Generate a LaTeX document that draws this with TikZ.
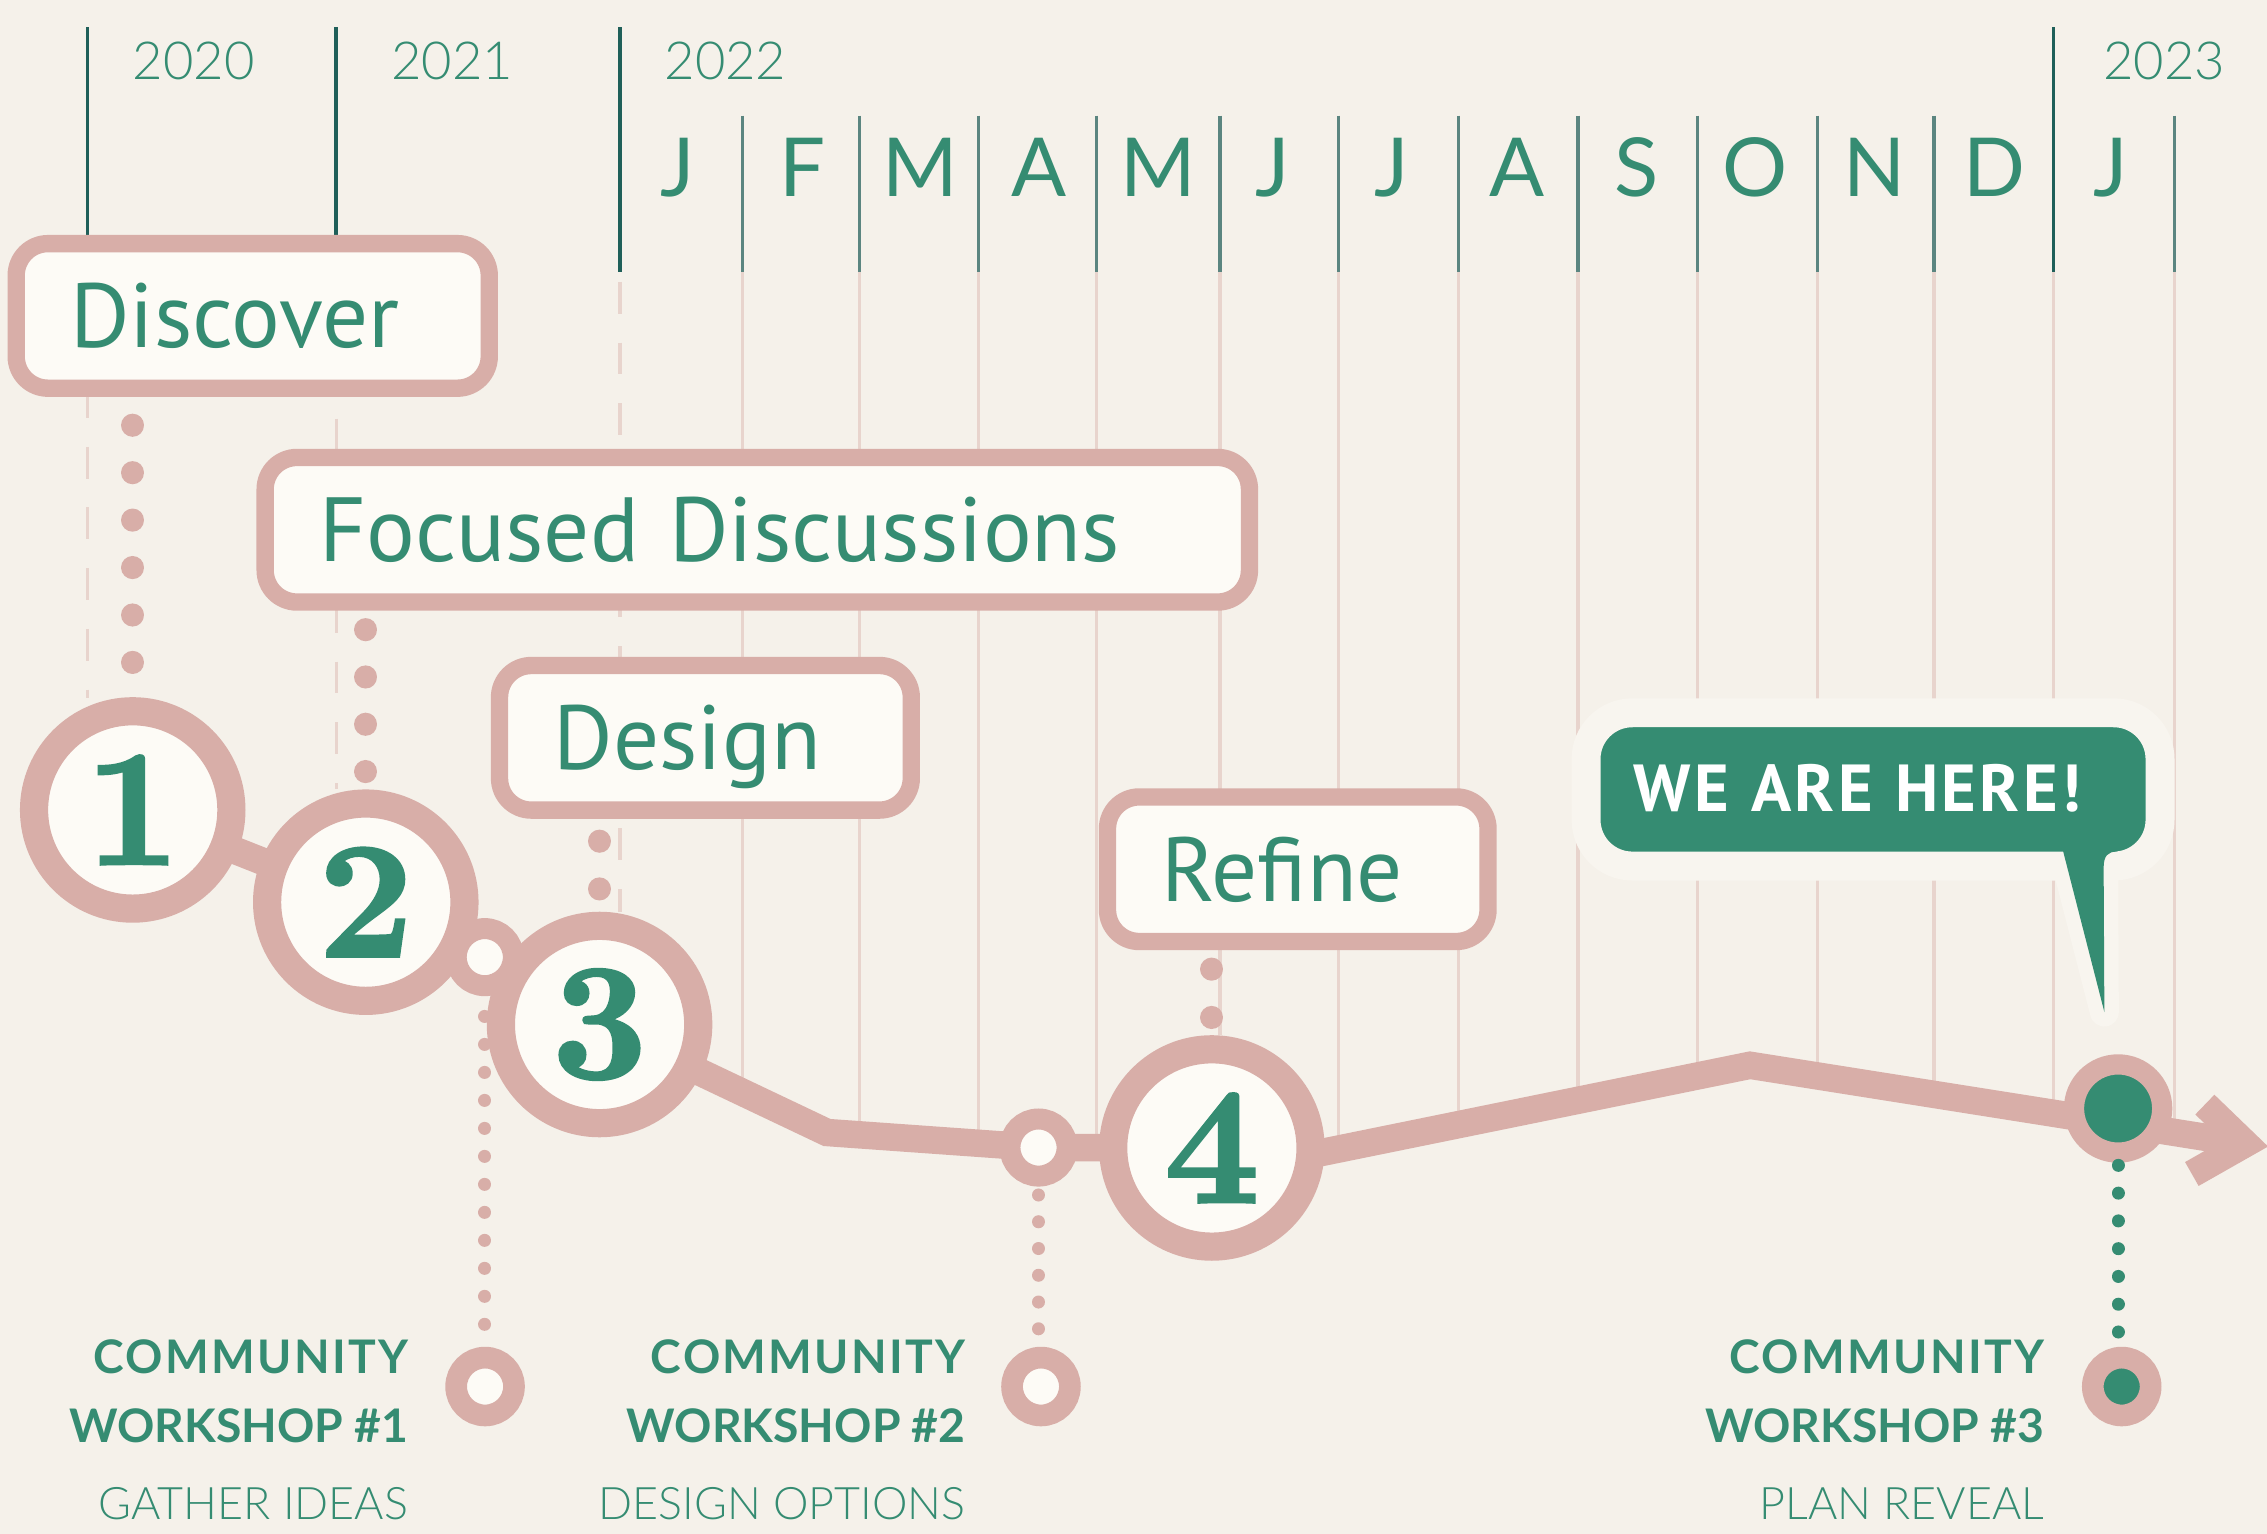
\documentclass[tikz,border=0pt]{standalone}
\usepackage{fontspec}
\newfontfamily\ptsans{PT Sans}
\newfontfamily\lato{Lato}
\newfontfamily\latolight{Lato Light}
\newfontfamily\numfont{lmroman10-bold}[Extension=.otf, FakeBold=1.6]
\definecolor{bgc}{HTML}{F5F1EA}
\definecolor{pinkc}{HTML}{D8AEA8}
\definecolor{boxfill}{HTML}{FDFBF6}
\definecolor{greenc}{HTML}{358C72}
\definecolor{yearc}{HTML}{1F5F59}
\definecolor{monthc}{HTML}{5B8580}
\definecolor{gridc}{HTML}{E8D4CD}
\definecolor{haloc}{HTML}{F8F5EF}
\pgfdeclarelayer{gridlayer}
\pgfdeclarelayer{underlayer}
\pgfsetlayers{gridlayer,underlayer,main}
\tikzset{
  yearline/.style={draw=yearc, line width=2.4pt},
  monthline/.style={draw=monthc, line width=2.2pt},
  gridline/.style={draw=gridc, line width=2.2pt},
  yearlbl/.style={anchor=base west, inner sep=0pt, text=greenc, font=\latolight\fontsize{36.3}{36.3}\selectfont},
  monthlbl/.style={anchor=base, inner sep=0pt, text=greenc, font=\lato\fontsize{56.3}{56.3}\selectfont},
  stagebox/.style={draw=pinkc, line width=12pt, fill=boxfill, rounded corners=22pt,
    minimum height=100pt, inner xsep=37.5pt, inner ysep=0pt, text height=47pt, text depth=3pt,
    align=left, text=greenc, font=\ptsans\fontsize{63}{63}\selectfont},
  bignum/.style={circle, draw=pinkc, line width=19.5pt, fill=boxfill, minimum size=136.5pt,
    inner sep=0pt, text=greenc, font=\numfont\fontsize{115}{115}\selectfont},
  smallring/.style={circle, draw=pinkc, line width=14.5pt, fill=boxfill, minimum size=39.5pt, inner sep=0pt},
  marker/.style={circle, draw=pinkc, line width=15pt, fill=boxfill, minimum size=40pt, inner sep=0pt},
  herering/.style={circle, draw=pinkc, line width=14pt, fill=greenc, minimum size=61pt, inner sep=0pt},
  tl/.style={draw=pinkc, line width=19pt, line join=miter},
  bigdots/.style={draw=pinkc, line width=16pt, line cap=round},
  smalldots/.style={draw=pinkc, line width=9pt, line cap=round},
  wsbold/.style={anchor=base east, inner sep=0pt, text=greenc, font=\lato\bfseries\fontsize{32}{32}\selectfont},
  wslight/.style={anchor=base east, inner sep=0pt, text=greenc, font=\latolight\fontsize{31}{31}\selectfont},
  bubble/.style={fill=greenc, draw=haloc, line width=20pt, rounded corners=32pt, minimum height=106pt,
    inner xsep=33pt, inner ysep=0pt, text width=331pt, align=left, text height=32pt, text depth=1pt,
    text=white, font=\ptsans\bfseries\fontsize{46}{46}\selectfont\addfontfeature{LetterSpace=5}}
}
\begin{document}
\begin{tikzpicture}[x=1pt,y=-1pt]
\useasboundingbox (0,0) rectangle (1568,1061);
\begin{pgfonlayer}{gridlayer}
  \fill[bgc] (0,0) rectangle (1568,1061);
  % year lines
  \foreach \x/\yb in {60.7/170, 232.5/170, 428.8/188, 1420.3/188}
    \draw[yearline] (\x,19) -- (\x,\yb);
  % month lines
  \foreach \x in {513.5,594.5,677,758.5,843.8,926,1009,1091.4,1174,1256.8,1337.7,1504}
    \draw[monthline] (\x,80) -- (\x,188);
  % light grid lines down to the timeline
  \foreach \x/\yb in {513.5/755,594.5/785,677/791,758.5/794,843.8/716,926/795,1009/778,1091.4/761,1174/744,1256.8/744,1337.7/757,1420.3/770,1504/783}
    \draw[gridline] (\x,188) -- (\x,\yb);
  % dashed year lines
  \draw[gridline, dash pattern=on 22pt off 20pt, dash phase=7pt] (60.7,274) -- (60.7,483);
  \draw[gridline, dash pattern=on 22pt off 20pt, dash phase=26.4pt] (232.5,274) -- (232.5,546);
  \draw[gridline, dash pattern=on 22pt off 20pt] (428.8,195) -- (428.8,631);
\end{pgfonlayer}

% year labels
\node[yearlbl] (y20) at (91.7,55) {2020};
\node[yearlbl] (y21) at (270.5,55) {2021};
\node[yearlbl] (y22) at (459.5,55) {2022};
\node[yearlbl] (y23) at (1454.5,55) {2023};
% month labels
\foreach \x/\m [count=\i] in {468.8/J,555/F,636.7/M,719/A,801.3/M,880.5/J,962.7/J,1049.2/A,1131.8/S,1214.2/O,1296.8/N,1379.8/D,1460/J}
  \node[monthlbl] (mo\i) at (\x,136) {\m};

% stage boxes
\node[stagebox, text width=252.2pt] (disc) at (174.8,218.5) {\mbox{Discover}};
\node[stagebox, text width=605.8pt] (foc) at (523.8,366.4) {\mbox{Focused Discussions}};
\node[stagebox, text width=209.8pt] (des) at (487.9,510.3) {\mbox{Design}};
\node[stagebox, text width=188.2pt] (ref) at (897.6,601.2) {\mbox{Refine}};

% timeline circles
\node[bignum] (c1) at (91.8,560.2) {1};
\node[bignum] (c2) at (253,624) {2};
\node[smallring] (s1) at (335.3,662) {};
\node[bignum] (c3) at (414.7,708.6) {3};
\node[smallring] (s2) at (718.3,793.7) {};
\node[bignum] (c4) at (838.2,794) {4};
\node[herering] (here) at (1465,766.7) {};

\coordinate (B1) at (572,783.3);
\coordinate (B2) at (900,800);
\coordinate (PK) at (1210.4,736.8);
\coordinate (tip) at (1553,791);
\coordinate (a1) at (1525,764);
\coordinate (a2) at (1516,812);

\begin{pgfonlayer}{underlayer}
  \draw[tl] (c1.center) -- (c2.center) -- (s1.center) -- (c3.center) -- (B1) -- (s2.center)
    -- (c4.center) -- (B2) -- (PK) -- (tip);
  \draw[tl] (a1) -- (tip) -- (a2);
\end{pgfonlayer}

% dotted connectors from stage boxes to circles
\draw[bigdots, dash pattern=on 0.01pt off 32.8pt, dash phase=13.2pt] (c1 |- disc.south) -- (c1.north);
\draw[bigdots, dash pattern=on 0.01pt off 32.7pt, dash phase=19.6pt] (c2 |- foc.south) -- (c2.north);
\draw[bigdots, dash pattern=on 0.01pt off 33pt, dash phase=17.5pt] (c3 |- des.south) -- (c3.north);
\draw[bigdots, dash pattern=on 0.01pt off 33.4pt, dash phase=20.3pt] (c4 |- ref.south) -- (c4.north);

% workshop markers
\node[marker] (m1) at (335.5,959) {};
\node[marker] (m2) at (720,959) {};
\node[marker, fill=greenc] (m3) at (1467.5,959) {};

\draw[smalldots, dash pattern=on 0.01pt off 19.35pt, dash phase=5.35pt] (s1.south) -- (s1.south |- m1.north);
\draw[smalldots, dash pattern=on 0.01pt off 18.5pt, dash phase=12.7pt] (s2.south) -- (s2.south |- m2.north);
\draw[smalldots, draw=greenc, dash pattern=on 0.01pt off 19.2pt, dash phase=17.4pt] (here.south) -- (here.south |- m3.north);

% workshop labels
\node[wsbold] (w1a) at (282.5,950) {\addfontfeature{LetterSpace=5}COMMUNITY};
\node[wsbold] (w1b) at (282.5,997.5) {WORKSHOP \#1};
\node[wslight] (w1c) at (282.5,1051) {GATHER IDEAS};
\node[wsbold] (w2a) at (668,950) {\addfontfeature{LetterSpace=5}COMMUNITY};
\node[wsbold] (w2b) at (668,997.5) {WORKSHOP \#2};
\node[wslight] (w2c) at (668,1051) {DESIGN OPTIONS};
\node[wsbold] (w3a) at (1414,950) {\addfontfeature{LetterSpace=5}COMMUNITY};
\node[wsbold] (w3b) at (1414,997.5) {WORKSHOP \#3};
\node[wslight] (w3c) at (1414,1051) {PLAN REVEAL};

% callout
\draw[draw=haloc, line width=20pt, line join=round] (1426,585) -- (1455.5,700) -- (1455,585);
\node[bubble] (weh) at (1295.5,546) {\mbox{WE ARE HERE!}};
\fill[greenc] (1426,585) -- (1455.5,700) -- (1455,600) .. controls (1455,592) and (1458,589) .. (1464,589) -- (1464,585) -- cycle;
\end{tikzpicture}
\end{document}
